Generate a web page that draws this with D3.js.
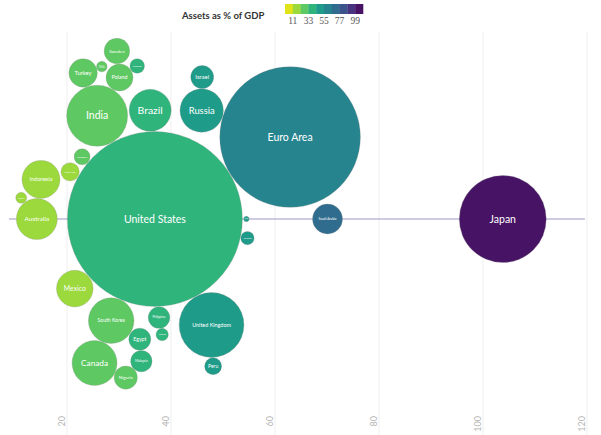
<!DOCTYPE html>
<html>
<head>
<meta charset="utf-8">
<script src="https://cdn.jsdelivr.net/npm/d3@7"></script>
<style>
  body { margin: 0; background: #fff; }
  svg { display: block; font-family: Lato, "Open Sans", sans-serif; }
</style>
</head>
<body>
<svg id="chart" width="601" height="435"></svg>
<script>
// countries, assets as % of GDP (x + colour), economy size (bubble area)
const countries = ["United States", "Euro Area", "Japan", "United Kingdom", "India",
  "South Korea", "Canada", "Russia", "Brazil", "Australia", "Indonesia", "Mexico",
  "Saudi Arabia", "Turkey", "Poland", "Sweden", "Nigeria", "Israel", "Egypt",
  "Philippines", "Malaysia", "South Africa", "Peru", "Colombia", "Thailand",
  "Kuwait", "Vietnam", "Kenya", "Chile", "Qatar"];
const assetsPct = [36.9, 62.9, 103.8, 47.8, 25.8,
  28.5, 25.3, 45.9, 36.0, 14.2, 15.0, 21.5,
  70.1, 23.1, 30.1, 29.6, 31.3, 46.0, 34.0,
  37.7, 34.3, 20.6, 48.1, 22.9, 33.5,
  54.7, 38.3, 11.2, 26.7, 54.5];
const economySize = [19400, 12520, 4795, 2660, 2357,
  1317, 1283, 1193, 1118, 1065, 915, 849,
  570, 511, 462, 415, 341, 335, 307,
  296, 290, 214, 183, 162, 135,
  114, 97, 77, 71, 18];
const legendTicks = [11, 33, 55, 77, 99];
const xTicks = [20, 40, 60, 80, 100, 120];

const svg = d3.select("#chart"),
  width = +svg.attr("width"),
  height = +svg.attr("height"),
  centerY = 219;

const x = d3.scaleLinear().domain([20, 120]).range([67, 587]);
const r = d3.scaleSqrt().domain([0, d3.max(economySize)]).range([0, 87.5]);

const colors = d3.range(10).map(i => d3.interpolateViridis(1 - (i + 0.5) / 10));
const color = d3.scaleQuantize().domain([0, 110]).range(colors);

// gridlines + rotated tick labels
const grid = svg.append("g");
grid.selectAll("line")
  .data(xTicks)
  .enter().append("line")
  .attr("x1", d => x(d)).attr("x2", d => x(d))
  .attr("y1", 32).attr("y2", height)
  .attr("stroke", "#efefef")
  .attr("stroke-width", 1);
grid.selectAll("text")
  .data(xTicks)
  .enter().append("text")
  .attr("transform", d => "translate(" + (x(d) - 2.5) + ",416) rotate(-90)")
  .attr("text-anchor", "end")
  .attr("font-size", 9)
  .attr("fill", "#b4b4b4")
  .text(d => d);

svg.append("line")
  .attr("x1", 9).attr("x2", 585)
  .attr("y1", centerY).attr("y2", centerY)
  .attr("stroke", "#9d99c4")
  .attr("stroke-width", 1);

// beeswarm: biggest first, each bubble at its exact x, nearest free y (above wins ties)
let nodes = countries.map((c, i) => ({
  name: c, value: assetsPct[i], size: economySize[i],
  x: x(assetsPct[i]), r: r(economySize[i])
}));
nodes.sort((a, b) => b.r - a.r);

const pad = 0.3;
let placed = [];
nodes.forEach(n => {
  let cands = [centerY];
  placed.forEach(p => {
    let dx = n.x - p.x, dist = n.r + p.r + pad;
    if (Math.abs(dx) < dist) {
      let dy = Math.sqrt(dist * dist - dx * dx);
      cands.push(p.y - dy, p.y + dy);
    }
  });
  let ok = cands.filter(y => placed.every(p => {
    let dx = n.x - p.x, dy = y - p.y;
    return Math.sqrt(dx * dx + dy * dy) >= n.r + p.r + pad - 1e-6;
  }));
  ok.sort((a, b) => {
    let da = Math.abs(a - centerY), db = Math.abs(b - centerY);
    return Math.abs(da - db) > 0.5 ? da - db : a - b;
  });
  n.y = ok[0];
  placed.push(n);
});

const bubble = svg.append("g")
  .selectAll("g")
  .data(nodes)
  .enter().append("g")
  .attr("transform", d => "translate(" + d.x + "," + d.y + ")");

bubble.append("circle")
  .attr("r", d => d.r)
  .attr("fill", d => color(d.value))
  .attr("stroke", "#8a8a8a")
  .attr("stroke-opacity", 0.35)
  .attr("stroke-width", 0.8);

bubble.append("text")
  .attr("text-anchor", "middle")
  .attr("dy", "0.35em")
  .attr("fill", "#fff")
  .attr("font-size", 10)
  .text(d => d.name)
  .each(function(d) {
    let len = this.getComputedTextLength();
    let fs = Math.min(10.5, 10 * (0.6 * 2 * d.r) / len);
    d3.select(this).attr("font-size", fs);
  });

// legend
svg.append("text")
  .attr("x", 182)
  .attr("y", 19)
  .attr("font-size", 9.5)
  .attr("font-weight", 700)
  .attr("fill", "#333")
  .text("Assets as % of GDP");

const lx = d3.scaleLinear().domain([0, 110]).range([285, 363]);
const legend = svg.append("g");
legend.selectAll("rect")
  .data(colors)
  .enter().append("rect")
  .attr("x", (d, i) => lx(i * 11))
  .attr("y", 4)
  .attr("width", lx(11) - lx(0) + 0.3)
  .attr("height", 10)
  .attr("fill", d => d);
legend.selectAll("text")
  .data(legendTicks)
  .enter().append("text")
  .attr("x", d => lx(d))
  .attr("y", 24)
  .attr("text-anchor", "middle")
  .attr("font-family", "'Liberation Serif', serif")
  .attr("font-size", 9.5)
  .attr("fill", "#555")
  .text(d => d);
</script>
</body>
</html>
